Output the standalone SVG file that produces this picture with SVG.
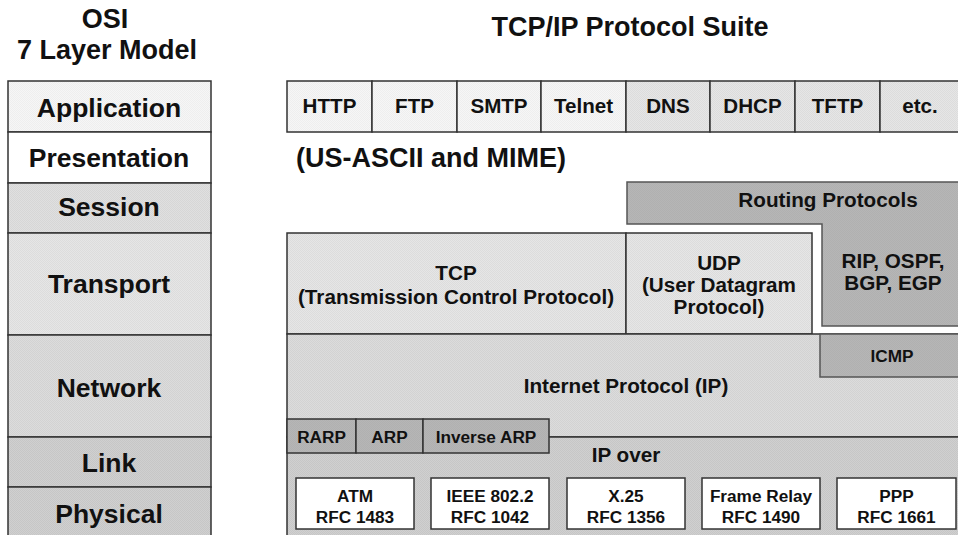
<svg xmlns="http://www.w3.org/2000/svg" width="958" height="535" viewBox="0 0 958 535">
  <defs>
    <!-- fine two-tone checker fills -->
    <pattern id="pLight" width="2" height="2" patternUnits="userSpaceOnUse">
      <rect width="2" height="2" fill="#f6f6f6"/><rect width="1" height="1" fill="#eeeeee"/><rect x="1" y="1" width="1" height="1" fill="#eeeeee"/>
    </pattern>
    <pattern id="pMid" width="2" height="2" patternUnits="userSpaceOnUse">
      <rect width="2" height="2" fill="#e6e6e6"/><rect width="1" height="1" fill="#dcdcdc"/><rect x="1" y="1" width="1" height="1" fill="#dcdcdc"/>
    </pattern>
    <pattern id="pNet" width="2" height="2" patternUnits="userSpaceOnUse">
      <rect width="2" height="2" fill="#dcdcdc"/><rect width="1" height="1" fill="#d2d2d2"/><rect x="1" y="1" width="1" height="1" fill="#d2d2d2"/>
    </pattern>
    <pattern id="pSess" width="2" height="2" patternUnits="userSpaceOnUse">
      <rect width="2" height="2" fill="#e0e0e0"/><rect width="1" height="1" fill="#d6d6d6"/><rect x="1" y="1" width="1" height="1" fill="#d6d6d6"/>
    </pattern>
    <pattern id="pLink" width="2" height="2" patternUnits="userSpaceOnUse">
      <rect width="2" height="2" fill="#d0d0d0"/><rect width="1" height="1" fill="#c6c6c6"/><rect x="1" y="1" width="1" height="1" fill="#c6c6c6"/>
    </pattern>
    <pattern id="pDark" width="2" height="2" patternUnits="userSpaceOnUse">
      <rect width="2" height="2" fill="#b6b6b6"/><rect width="1" height="1" fill="#b0b0b0"/><rect x="1" y="1" width="1" height="1" fill="#b0b0b0"/>
    </pattern>
    <style>
      text { font-family: "Liberation Sans", Arial, sans-serif; font-weight: bold; fill: #111; text-anchor: middle; }
      .title { font-size: 27px; }
      .osi { font-size: 26.5px; }
      .app { font-size: 20.6px; }
      .mid { font-size: 20.7px; }
      .sm { font-size: 17.2px; }
      .box { stroke: #333; stroke-width: 1.5; }
      .gray { stroke: #555; stroke-width: 1.5; }
    </style>
  </defs>
  <rect width="958" height="535" fill="#ffffff"/>

  <!-- headings -->
  <g id="heading-osi">
    <text class="title" x="105" y="28">OSI</text>
    <text class="title" x="107" y="59">7 Layer Model</text>
  </g>
  <g id="heading-tcpip">
    <text class="title" x="630" y="36">TCP/IP Protocol Suite</text>
  </g>

  <!-- OSI reference model column -->
  <g id="osi-application"><rect class="box" x="8" y="81" width="203" height="51" fill="url(#pLight)"/><text class="osi" x="109" y="117">Application</text></g>
  <g id="osi-presentation"><rect class="box" x="8" y="132" width="203" height="51" fill="#ffffff"/><text class="osi" x="109" y="167">Presentation</text></g>
  <g id="osi-session"><rect class="box" x="8" y="183" width="203" height="50" fill="url(#pSess)"/><text class="osi" x="109" y="216">Session</text></g>
  <g id="osi-transport"><rect class="box" x="8" y="233" width="203" height="102" fill="url(#pMid)"/><text class="osi" x="109" y="293">Transport</text></g>
  <g id="osi-network"><rect class="box" x="8" y="335" width="203" height="102" fill="url(#pNet)"/><text class="osi" x="109" y="397">Network</text></g>
  <g id="osi-link"><rect class="box" x="8" y="437" width="203" height="50" fill="url(#pLink)"/><text class="osi" x="109" y="472">Link</text></g>
  <g id="osi-physical"><rect class="box" x="8" y="487" width="203" height="52" fill="url(#pLink)"/><text class="osi" x="109" y="523">Physical</text></g>

  <!-- application protocols -->
  <g id="app-http"><rect class="box" x="287" y="81" width="85" height="51" fill="url(#pLight)"/><text class="app" x="329.5" y="113">HTTP</text></g>
  <g id="app-ftp"><rect class="box" x="372" y="81" width="85" height="51" fill="url(#pLight)"/><text class="app" x="414.5" y="113">FTP</text></g>
  <g id="app-smtp"><rect class="box" x="457" y="81" width="84" height="51" fill="url(#pLight)"/><text class="app" x="499" y="113">SMTP</text></g>
  <g id="app-telnet"><rect class="box" x="541" y="81" width="85" height="51" fill="url(#pLight)"/><text class="app" x="583.5" y="113">Telnet</text></g>
  <g id="app-dns"><rect class="box" x="626" y="81" width="84" height="51" fill="url(#pMid)"/><text class="app" x="668" y="113">DNS</text></g>
  <g id="app-dhcp"><rect class="box" x="710" y="81" width="85" height="51" fill="url(#pMid)"/><text class="app" x="752.5" y="113">DHCP</text></g>
  <g id="app-tftp"><rect class="box" x="795" y="81" width="85" height="51" fill="url(#pMid)"/><text class="app" x="837.5" y="113">TFTP</text></g>
  <g id="app-etc"><rect class="box" x="880" y="81" width="82" height="51" fill="url(#pMid)"/><text class="app" x="920" y="113">etc.</text></g>

  <g id="presentation-note">
    <text x="296" y="167" style="font-size:27px;text-anchor:start">(US-ASCII and MIME)</text>
  </g>

  <!-- routing protocols (L-shaped block) -->
  <g id="routing">
    <path class="gray" d="M627 182 H962 V326 H822 V224 H627 Z" fill="url(#pDark)"/>
    <text class="mid" x="828" y="207">Routing Protocols</text>
    <text class="mid" x="893" y="268">RIP, OSPF,</text>
    <text class="mid" x="893" y="290">BGP, EGP</text>
  </g>

  <!-- transport protocols -->
  <g id="tcp">
    <rect class="box" x="287" y="233" width="339" height="101" fill="url(#pMid)"/>
    <text class="mid" x="456" y="280">TCP</text>
    <text class="mid" x="456" y="304">(Transmission Control Protocol)</text>
  </g>
  <g id="udp">
    <rect class="box" x="626" y="233" width="186" height="101" fill="url(#pMid)"/>
    <text class="mid" x="719" y="270">UDP</text>
    <text class="mid" x="719" y="292">(User Datagram</text>
    <text class="mid" x="719" y="314">Protocol)</text>
  </g>

  <!-- internet layer -->
  <g id="ip">
    <rect class="box" x="287" y="334" width="675" height="103" fill="url(#pNet)"/>
    <text class="mid" x="626" y="393">Internet Protocol (IP)</text>
  </g>
  <g id="icmp">
    <rect class="gray" x="820" y="334" width="142" height="43" fill="url(#pDark)"/>
    <text class="sm" x="892" y="362">ICMP</text>
  </g>

  <!-- link layer -->
  <g id="ip-over">
    <rect class="box" x="287" y="437" width="675" height="102" fill="url(#pLink)"/>
    <text class="mid" x="626" y="462">IP over</text>
  </g>
  <g id="rarp"><rect class="box" x="287" y="419" width="69" height="34" fill="url(#pDark)"/><text class="sm" x="321.5" y="443">RARP</text></g>
  <g id="arp"><rect class="box" x="356" y="419" width="67" height="34" fill="url(#pDark)"/><text class="sm" x="389.5" y="443">ARP</text></g>
  <g id="inverse-arp"><rect class="box" x="423" y="419" width="126" height="34" fill="url(#pDark)"/><text class="sm" x="486" y="443">Inverse ARP</text></g>

  <g id="atm"><rect class="box" x="296" y="478" width="118" height="51" fill="#ffffff"/><text class="sm" x="355" y="502">ATM</text><text class="sm" x="355" y="523">RFC 1483</text></g>
  <g id="ieee"><rect class="box" x="431" y="478" width="118" height="51" fill="#ffffff"/><text class="sm" x="490" y="502">IEEE 802.2</text><text class="sm" x="490" y="523">RFC 1042</text></g>
  <g id="x25"><rect class="box" x="567" y="478" width="118" height="51" fill="#ffffff"/><text class="sm" x="626" y="502">X.25</text><text class="sm" x="626" y="523">RFC 1356</text></g>
  <g id="frame-relay"><rect class="box" x="702" y="478" width="118" height="51" fill="#ffffff"/><text class="sm" x="761" y="502">Frame Relay</text><text class="sm" x="761" y="523">RFC 1490</text></g>
  <g id="ppp"><rect class="box" x="837" y="478" width="119" height="51" fill="#ffffff"/><text class="sm" x="896.5" y="502">PPP</text><text class="sm" x="896.5" y="523">RFC 1661</text></g>
</svg>
